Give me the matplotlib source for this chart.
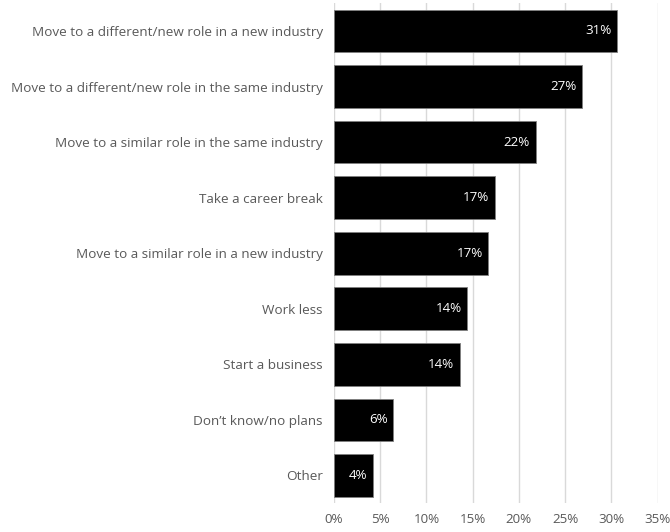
import matplotlib
matplotlib.use("Agg")
import matplotlib.pyplot as plt

categories = [
    "Move to a different/new role in a new industry",
    "Move to a different/new role in the same industry",
    "Move to a similar role in the same industry",
    "Take a career break",
    "Move to a similar role in a new industry",
    "Work less",
    "Start a business",
    "Don\u2019t know/no plans",
    "Other",
]
values = [30.6, 26.8, 21.8, 17.4, 16.7, 14.4, 13.6, 6.4, 4.2]
xticks = [0, 5, 10, 15, 20, 25, 30, 35]

plt.rcParams["font.family"] = ["Open Sans", "DejaVu Sans"]
text_color = "#595959"

fig = plt.figure(figsize=(6.7, 5.32), dpi=100)
ax = fig.add_axes([0.4985, 0.054, 0.483, 0.940])

y = list(range(len(categories)))
bars = ax.barh(y, values, height=0.77, color="black", edgecolor="#7f7f7f",
               linewidth=0.6, zorder=3)
for rect, v in zip(bars, values):
    ax.text(rect.get_width() - 0.6, rect.get_y() + rect.get_height() / 2,
            f"{v:.0f}%", ha="right", va="center", color="white",
            fontsize=9.6, zorder=4)

ax.set_ylim(len(categories) - 0.5, -0.5)
ax.set_xlim(0, 35)
ax.set_yticks(y)
ax.set_yticklabels(categories, fontsize=9.7, color=text_color)
ax.set_xticks(xticks)
ax.set_xticklabels([f"{t}%" for t in xticks], fontsize=9.6, color=text_color)
ax.tick_params(axis="both", length=0)
ax.tick_params(axis="y", pad=8)
ax.tick_params(axis="x", pad=7)
ax.xaxis.grid(True, color="#d9d9d9", linewidth=1, zorder=0)
for s in ax.spines.values():
    s.set_visible(False)

fig.savefig("out.png", dpi=100)
